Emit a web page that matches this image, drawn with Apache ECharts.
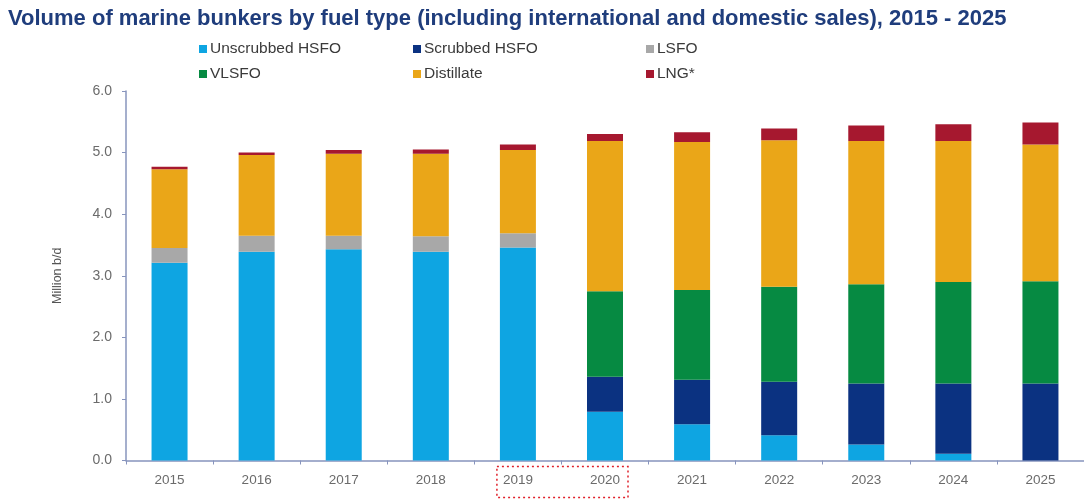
<!DOCTYPE html>
<html>
<head>
<meta charset="utf-8">
<script src="https://cdn.jsdelivr.net/npm/echarts@6/dist/echarts.min.js"></script>
<style>html,body{margin:0;padding:0;background:#fff}#c{width:1084px;height:500px}</style>
</head>
<body>
<div id="c"></div>
<script>
const years = ['2015','2016','2017','2018','2019','2020','2021','2022','2023','2024','2025'];
const unscrubbedHSFO = [3.21, 3.39, 3.43, 3.39, 3.46, 0.79, 0.59, 0.41, 0.26, 0.11, 0];
const scrubbedHSFO   = [0, 0, 0, 0, 0, 0.57, 0.72, 0.87, 0.99, 1.14, 1.25];
const lsfo           = [0.24, 0.26, 0.22, 0.25, 0.23, 0, 0, 0, 0, 0, 0];
const vlsfo          = [0, 0, 0, 0, 0, 1.39, 1.46, 1.54, 1.61, 1.65, 1.66];
const distillate     = [1.28, 1.31, 1.33, 1.34, 1.35, 2.44, 2.40, 2.38, 2.33, 2.29, 2.22];
const lng            = [0.04, 0.04, 0.06, 0.07, 0.09, 0.11, 0.16, 0.19, 0.25, 0.27, 0.36];
const yTicks = ['0.0','1.0','2.0','3.0','4.0','5.0','6.0'];
const highlighted = ['2019','2020'];

const colors = {
  'Unscrubbed HSFO': '#0ea5e2',
  'Scrubbed HSFO': '#0b3281',
  'LSFO': '#a8a8a8',
  'VLSFO': '#068a42',
  'Distillate': '#eaa618',
  'LNG*': '#a6182f'
};
const seriesData = [
  ['Unscrubbed HSFO', unscrubbedHSFO],
  ['Scrubbed HSFO', scrubbedHSFO],
  ['LSFO', lsfo],
  ['VLSFO', vlsfo],
  ['Distillate', distillate],
  ['LNG*', lng]
];

const chart = echarts.init(document.getElementById('c'));
const legendText = {color:'#3a3a3a', fontSize:15.5, fontFamily:'Liberation Sans, Arial', padding:[0,0,0,-2]};
function col(left, names){
  return {left:left, top:36, orient:'vertical', itemGap:9, itemWidth:8, itemHeight:8,
    icon:'rect', data:names, textStyle:legendText, selectedMode:false};
}
chart.setOption({
  animation:false,
  color: seriesData.map(s=>colors[s[0]]),
  title:{text:'Volume of marine bunkers by fuel type (including international and domestic sales), 2015 - 2025',
    left:3, top:3, textStyle:{color:'#1f3d7c', fontSize:22, fontWeight:'bold', fontFamily:'Liberation Sans, Arial'}},
  legend:[
    col(194, ['Unscrubbed HSFO','VLSFO']),
    col(408, ['Scrubbed HSFO','Distillate']),
    col(641, ['LSFO','LNG*'])
  ],
  grid:{left:126, top:91, width:959, bottom:39.5, containLabel:false},
  xAxis:{type:'category', data:years,
    axisLine:{lineStyle:{color:'#8794bd', width:1.5}},
    axisTick:{show:true, length:4, lineStyle:{color:'#8794bd'}},
    axisLabel:{color:'#6b6b6b', fontSize:13.5, margin:13, fontFamily:'Liberation Sans, Arial'}},
  yAxis:{type:'value', min:0, max:6, interval:1,
    name:'Million b/d', nameLocation:'middle', nameGap:62, nameRotate:90,
    nameTextStyle:{color:'#555', fontSize:12.5, fontFamily:'Liberation Sans, Arial'},
    splitLine:{show:false},
    axisLine:{show:true, lineStyle:{color:'#8794bd', width:1.5}},
    axisTick:{show:true, length:4, lineStyle:{color:'#8794bd'}},
    axisLabel:{color:'#6b6b6b', fontSize:14, margin:14, fontFamily:'Liberation Sans, Arial',
      formatter:(v)=>yTicks[Math.round(v)]}},
  series: seriesData.map(s=>({name:s[0], type:'bar', stack:'total', barWidth:36, data:s[1]}))
});

// dotted annotation box around highlighted year labels
const p0 = chart.convertToPixel({xAxisIndex:0, yAxisIndex:0}, [highlighted[0], 0]);
const p1 = chart.convertToPixel({xAxisIndex:0, yAxisIndex:0}, [highlighted[1], 0]);
chart.setOption({graphic:[{type:'rect', shape:{x:p0[0]-21, y:p0[1]+6, width:(p1[0]-p0[0])+44, height:31},
  style:{fill:'none', stroke:'#e0202a', lineWidth:1.5, lineDash:[2,3]}}]});
</script>
</body>
</html>
